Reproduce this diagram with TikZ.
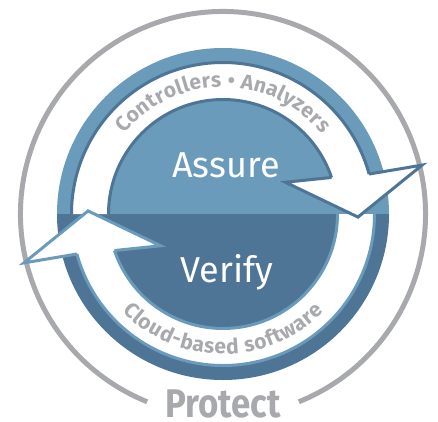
\documentclass[tikz,border=0pt]{standalone}
\usepackage{fontspec}
\usepackage{graphicx}
\setmainfont{Fira Sans}
\usetikzlibrary{decorations.text}
\definecolor{lightblue}{HTML}{6B9BBA}
\definecolor{darkblue}{HTML}{4E7496}
\definecolor{ringgray}{HTML}{A8A9AD}
\newcommand{\ringfont}{\fontsize{21}{21}\selectfont\bfseries\color{ringgray}}

\begin{document}
\begin{tikzpicture}[x=1pt, y=1pt,
  edge line/.style={line width=3pt, line join=miter},
  big label/.style={text=white, inner sep=0pt, anchor=base, font=\fontsize{36}{36}\selectfont}]
  \useasboundingbox (-223,-207) rectangle (215,214);
  % Outer gray ring, open at the bottom
  \draw[ringgray, line width=5pt] (-68:202.5) arc[start angle=-68, end angle=248, radius=202.5];
  % Upper and lower halves
  \fill[lightblue] (166,0) arc[start angle=0, end angle=180, radius=166] -- cycle;
  \fill[darkblue] (-166,0) arc[start angle=180, end angle=360, radius=166] -- cycle;
  % White bands ending in arrow heads
  \foreach \rot in {0,180}
    \fill[white, rotate=\rot] (180:151.5) arc[start angle=180, end angle=15.3, radius=151.5]
      -- (13.8:205) -- (-1.3:135) -- (27:70) -- (18.6:114.5)
      arc[start angle=18.6, end angle=180, radius=114.5] -- cycle;
  % Edges of the bands and heads
  \foreach \rot/\edge in {0/darkblue, 180/lightblue} {
    \draw[\edge, edge line, rotate=\rot] (180:151.5) arc[start angle=180, end angle=15.3, radius=151.5];
    \draw[\edge, edge line, rotate=\rot] (180:114.5) arc[start angle=180, end angle=18.6, radius=114.5];
    \draw[\edge, edge line, rotate=\rot] (18.6:114.5) -- (27:70) -- (-1.3:135) -- (13.8:205) -- (15.3:151.5);
  }
  % Texts along the bands
  \path[decorate, decoration={text along path, text align=fit to path,
      text={|\ringfont|Controllers {\textbullet} Analyzers}}]
    (141:127) arc[start angle=141, end angle=39, radius=127];
  \path[decorate, decoration={text along path, text align=fit to path,
      text={|\ringfont|Cloud-based software}}]
    (224:140) arc[start angle=224, end angle=316, radius=140];
  % Labels
  \node[big label] (assure) at (3,37) {Assure};
  \node[big label] (verify) at (4,-68) {Verify};
  \node[text=ringgray, inner sep=0pt, anchor=base, font=\fontsize{40}{40}\selectfont\bfseries]
    (protect) at (0,-203) {\scalebox{0.87}[1]{Protect}};
\end{tikzpicture}
\end{document}
